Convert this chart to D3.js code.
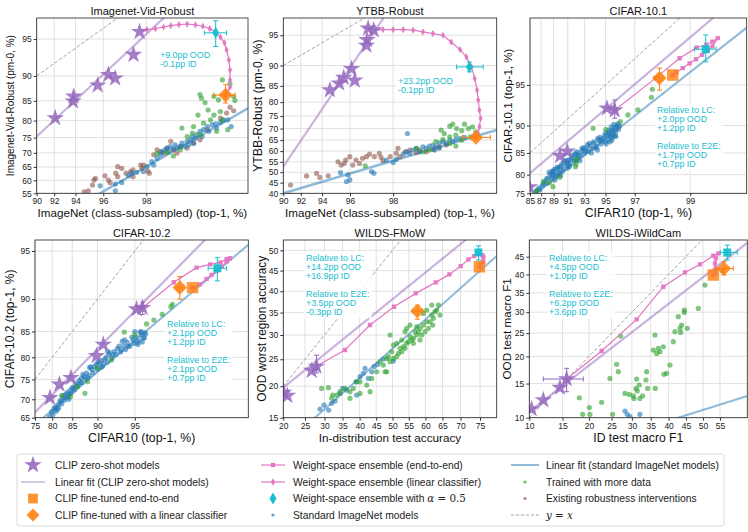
<!DOCTYPE html>
<html>
<head>
<meta charset="utf-8">
<script src="https://cdn.jsdelivr.net/npm/d3@7"></script>
<style>
body { margin: 0; background: #fff; }
svg { font-family: "Liberation Sans", Arial, sans-serif; }
.axis text { font-size: 8.5px; fill: #222; }
.axis line { stroke: #333; }
.grid line { stroke: #dedede; stroke-width: 0.9; }
.title { font-size: 11px; fill: #111; }
.alabel { fill: #111; }
.note { font-size: 8.9px; fill: #17becf; }
.leg { font-size: 10.3px; fill: #222; }
</style>
</head>
<body>
<svg id="fig" width="748" height="532"></svg>
<script>
// ---------- tick values ----------
var imnXTicks = [90, 92, 94, 96, 98]
    , vidYTicks = [55, 60, 65, 70, 75, 80, 85, 90, 95]
    , ytbbYTicks = [40, 45, 50, 55, 60, 65, 70, 75, 80, 85, 90, 95]
    , c101XTicks = [85, 87, 89, 91, 93, 95, 97, 99]
    , c101YTicks = [75, 80, 85, 90, 95]
    , c102XTicks = [75, 80, 85, 90, 95]
    , c102YTicks = [65, 70, 75, 80, 85, 90, 95]
    , fmowXTicks = [20, 25, 30, 35, 40, 45, 50, 55, 60, 65, 70, 75]
    , fmowYTicks = [15, 20, 25, 30, 35, 40, 45, 50]
    , iwildXTicks = [10, 15, 20, 25, 30, 35, 40, 45, 50, 55]
    , iwildYTicks = [10, 15, 20, 25, 30, 35, 40, 45];

// ---------- Imagenet-Vid-Robust ----------
var vidStars = [[92.1,80.7],[93.8,84.9],[93.85,86.0],[95.65,88.3],[96.3,90.2],[96.67,89.6],[97.52,93.2],[97.76,95.7]];
var vidWse = [[97.76,95.83],[98.02,95.89],[98.29,95.97],[98.52,96.11],[98.70,96.22],[98.88,96.30],[99.04,96.35],[99.18,96.28],[99.29,96.17],[99.38,95.97],[99.45,95.65],[99.50,95.2],[99.54,94.6],[99.56,93.8],[99.58,92.5],[99.59,91.0],[99.59,89.3],[99.59,87.9],[99.56,86.8],[99.55,86.3]];
var vidLC = [99.55, 86.3], vidLCErr = [[99.43, 99.63], [84.5, 88.4]];
var vidHalf = [99.45, 95.6], vidHalfErr = [[99.31, 99.56], [94.2, 96.6]];
var vidFitClip = [1.305, -0.988], vidFitStd = [0.803, -1.262];
var vidBlue = [[95.81,57.9],[96.68,56.0],[96.68,58.6],[97.0,59.2],[97.31,61.8],[97.45,62.7],[97.65,63.0],[97.9,63.3],[98.02,65.1],[98.18,66.9],[98.24,65.7],[98.34,68.1],[98.43,69.3],[98.48,70.4],[98.56,71.0],[98.61,71.6],[98.65,70.4],[98.69,72.1],[98.76,71.3],[98.8,72.7],[98.84,71.6],[98.91,72.1],[98.94,73.2],[99.0,72.1],[99.04,73.8],[99.07,72.7],[99.1,74.3],[99.13,75.3],[99.15,73.2],[99.18,74.8],[99.2,75.9],[99.25,76.9],[99.28,75.3],[99.3,77.4],[99.35,78.3],[99.37,76.9],[99.41,78.8],[99.45,79.1],[99.46,77.9],[99.5,79.5],[99.53,80.2],[99.57,80.2],[99.6,78.3]];
var vidBrown = [[94.7,55.6],[95.0,56.0],[95.3,58.2],[95.4,60.1],[95.5,60.8],[96.3,60.1],[96.4,59.1],[96.1,61.7],[96.7,62.7],[96.8,61.4],[96.8,65.1],[97.0,64.5],[97.2,62.7],[97.4,63.3],[97.5,61.4],[97.5,63.9],[97.8,65.7],[97.85,64.5],[97.9,65.7],[98.05,63.5],[98.1,62.7],[98.24,69.3],[98.34,71.0],[98.43,70.4],[98.52,69.9],[98.61,71.6],[98.7,73.8],[98.76,71.0],[98.84,69.9],[98.91,72.1],[99.04,71.6],[99.15,73.2],[99.25,74.3],[99.35,77.4],[99.5,80.7],[99.56,82.0],[99.59,83.5],[99.62,82.6]];
var vidGreen = [[99.52,89.3],[99.59,88.6],[99.25,86.4],[99.27,85.6],[99.43,86.0],[99.32,84.6],[99.48,85.2],[99.62,86.0],[99.63,85.1],[99.22,81.5],[99.36,82.8],[99.43,81.5],[99.5,82.4],[99.39,80.2],[99.52,80.2],[98.94,77.9],[99.15,78.3],[99.3,79.3],[99.13,76.4],[99.25,75.9],[99.04,75.3],[98.34,69.7],[98.61,70.1],[98.76,68.9],[98.91,71.0],[99.46,76.9],[99.57,77.4]];
var vidNote = ["+9.0pp OOD", "-0.1pp ID"];

// ---------- YTBB-Robust ----------
var ytbbStars = [[94.62,83.8],[95.3,85.7],[95.6,87.2],[96.09,89.3],[96.28,86.5],[96.9,93.6],[96.93,94.4],[96.98,95.8],[97.24,95.6]];
var ytbbWse = [[97.24,95.6],[97.63,95.67],[98.0,95.67],[98.32,95.67],[98.59,95.6],[98.82,95.4],[99.02,95.2],[99.19,95.0],[99.31,94.1],[99.42,92.96],[99.49,91.7],[99.54,89.7],[99.57,87.0],[99.59,83.8],[99.6,80.7],[99.61,77.2],[99.62,74.1],[99.61,70.8],[99.6,67.9],[99.58,66.2]];
var ytbbLC = [99.58, 66.2], ytbbLCErr = [[99.45, 99.69], [65.6, 66.8]];
var ytbbHalf = [99.52, 89.7], ytbbHalfErr = [[99.38, 99.64], [88.6, 90.7]];
var ytbbFitClip = [2.534, -3.181], ytbbFitStd = [0.507, -0.903];
var ytbbBlue = [[95.39,49.8],[95.78,45.5],[95.88,48.7],[95.99,46.3],[97.14,50.3],[97.25,49.5],[97.76,55.8],[98.0,54.6],[98.1,56.1],[98.32,58.6],[98.42,59.7],[98.5,59.0],[98.59,60.5],[98.67,61.3],[98.75,59.7],[98.82,62.0],[98.89,61.3],[98.95,62.3],[99.02,62.8],[99.07,62.0],[99.13,63.8],[99.19,64.3],[99.24,63.5],[99.29,65.0],[99.33,64.3],[99.37,65.3],[99.42,65.8],[99.47,66.2],[98.44,67.9],[99.05,60.5],[99.13,61.3]];
var ytbbBrown = [[90.87,43.9],[92.58,48.2],[93.52,49.5],[93.8,47.5],[94.49,48.3],[95.22,55.0],[95.43,53.4],[95.64,54.2],[95.73,55.8],[95.99,57.4],[96.17,53.4],[96.35,55.8],[96.54,54.2],[96.7,56.6],[96.9,57.4],[97.05,58.6],[97.27,57.4],[97.48,59.0],[97.55,57.1],[97.63,55.5],[97.9,57.4],[98.1,59.0],[98.22,57.4],[98.38,59.7],[98.5,60.5],[98.67,59.3],[98.75,60.5],[98.89,59.7],[99.02,60.8],[99.13,62.0],[99.24,62.8],[98.16,61.3]];
var ytbbGreen = [[96.84,53.0],[99.16,69.4],[99.21,67.9],[99.29,71.0],[99.33,71.8],[99.38,70.0],[99.44,69.1],[99.47,71.8],[99.51,70.0],[99.55,70.7],[99.58,68.6],[99.29,66.5],[99.37,67.2],[99.44,65.0],[99.19,65.3],[99.07,64.3],[98.67,61.3],[98.82,59.7],[98.95,60.5],[99.53,66.5],[99.37,62.3],[99.29,63.5]];
var ytbbNote = ["+23.2pp OOD", "-0.1pp ID"];

// ---------- CIFAR-10.1 ----------
var c101Stars = [[84.9,76.7],[89.94,84.35],[90.93,85.3],[95.12,92.45],[95.72,92.2]];
var c101StarErr = [[95.72, 92.2], [95.6, 95.85], [91.1, 93.45]];
var c101Wse = [[95.72,92.2],[97.97,95.6],[98.75,97.02],[99.13,97.61],[99.3,97.75],[99.39,97.9],[99.46,98.05],[99.39,97.67],[99.32,97.46],[99.23,97.22],[99.12,96.96],[98.99,96.7],[98.83,96.37],[98.66,96.05],[98.56,95.86]];
var c101E2E = [98.56, 95.86];
var c101LC = [98.12, 95.6], c101LCErr = [[98.0, 98.24], [94.5, 96.37]];
var c101Half = [99.29, 97.53], c101HalfErr = [[99.09, 99.44], [96.8, 98.18]];
var c101FitClip = [0.9435, -0.1241], c101FitStd = [0.8753, -0.277];
var c101Blue = [[86.0,75.4],[86.6,76.5],[87.2,77.2],[87.6,78.3],[88.0,77.8],[88.2,79.2],[88.5,80.2],[88.8,79.6],[89.0,80.8],[89.3,80.0],[89.6,81.4],[89.9,80.7],[90.1,82.0],[90.4,81.4],[90.6,82.8],[90.9,82.2],[91.1,83.4],[91.3,82.7],[91.6,84.0],[91.8,83.3],[92.0,84.5],[92.2,83.8],[92.4,85.0],[92.6,84.4],[92.8,85.5],[93.0,84.9],[93.2,85.9],[93.4,85.3],[93.6,86.4],[93.8,85.9],[94.0,86.9],[94.2,86.3],[94.4,87.4],[94.6,86.8],[94.8,87.8],[95.0,87.2],[95.1,88.4],[95.2,87.6],[95.3,88.9],[95.4,88.1],[95.5,89.3],[95.6,88.6],[95.7,89.7],[95.8,89.0],[95.9,90.0],[96.0,89.4],[95.5,87.5],[95.0,88.8],[94.5,88.0],[93.9,87.2],[93.3,86.6],[92.7,85.9],[92.1,85.2],[91.5,84.5],[90.8,83.4],[90.2,82.6],[89.5,81.8],[88.8,80.9],[89.2,78.6],[90.0,79.8],[91.0,81.6],[92.5,83.3],[94.3,85.6],[95.8,88.2],
    [88.3,80.6],[88.7,78.9],[89.1,81.3],[89.4,79.4],[89.8,81.9],[90.3,80.9],[90.5,83.3],[91.2,82.0],[91.4,83.7],[91.9,84.8],[92.3,84.3],[92.9,86.1],[93.1,85.4],[93.5,86.9],[93.7,85.0],[94.1,86.0],[94.3,87.8],[94.7,87.3],[94.9,88.3],[95.05,86.8],[95.25,89.2],[95.35,87.2],[95.45,89.8],[95.55,88.0],[95.65,90.2],[95.75,88.3],[95.85,89.6],[95.95,90.3],[96.05,89.9],[95.6,89.1],[95.3,88.5],[94.6,87.6],[92.0,83.3],[91.0,82.7],[89.7,80.3],[88.9,80.0],[87.9,79.0],[87.4,77.6],[86.8,76.0],[86.3,75.9]];
var c101Green = [[97.84,94.59],[97.8,93.76],[97.17,92.24],[96.6,91.56],[96.12,90.6],[95.02,89.4],[93.88,89.55],[92.1,83.6],[92.05,82.57],[91.97,81.9],[89.94,79.35],[88.4,77.95],[87.4,78.2],[86.2,75.7],[88.9,76.85]];
var c101Note = ["Relative to LC:", "+2.0pp OOD", "+1.2pp ID", "", "Relative to E2E:", "+1.7pp OOD", "+0.7pp ID"];

// ---------- CIFAR-10.2 ----------
var c102Stars = [[79.4,70.4],[81.9,73.8],[84.7,75.4],[89.85,80.3],[90.96,82.6],[95.17,88.6],[95.73,88.8]];
var c102StarErr = [[95.73, 88.8], [95.6, 95.86], [87.8, 89.6]];
var c102Wse = [[95.73,88.8],[97.85,92.05],[98.76,93.56],[99.13,93.87],[99.34,94.05],[99.44,94.32],[99.49,94.41],[99.44,94.11],[99.36,93.66],[99.26,93.24],[99.16,92.84],[99.04,92.42],[98.86,91.82],[98.63,91.44]];
var c102E2E = [98.63, 91.44];
var c102LC = [98.13, 91.44], c102LCErr = [[98.0, 98.26], [90.0, 92.66]];
var c102Half = [99.28, 93.5], c102HalfErr = [[99.08, 99.44], [92.2, 94.45]];
var c102FitClip = [0.789, -0.1066], c102FitStd = [0.6557, -0.11];
var c102Blue = [[79.3,65.3],[79.8,66.6],[80.5,67.5],[81.0,66.8],[81.5,68.5],[82.0,69.4],[82.5,68.8],[83.0,70.5],[83.5,71.2],[84.0,70.6],[84.5,72.3],[85.0,73.0],[85.5,72.4],[86.0,74.0],[86.5,74.8],[87.0,74.2],[87.5,75.7],[88.0,76.5],[88.5,75.9],[89.0,77.3],[89.5,78.0],[90.0,77.4],[90.3,78.8],[90.7,79.3],[91.0,78.6],[91.4,80.0],[91.8,80.6],[92.2,79.9],[92.6,81.2],[93.0,81.8],[93.4,81.1],[93.8,82.4],[94.2,83.0],[94.5,82.3],[94.8,83.5],[95.1,84.0],[95.4,83.3],[95.6,84.4],[95.8,83.8],[95.9,84.8],[95.3,82.6],[94.0,81.6],[92.4,80.5],[90.8,78.0],[89.2,76.6],[87.8,75.0],[86.2,73.3],[84.8,71.6],[83.2,69.8],[81.7,67.7],[80.2,65.9],[88.6,77.8],[91.6,81.3],[93.6,83.2],[95.0,85.0],[82.8,71.0],
    [80.8,67.9],[81.3,67.2],[82.3,69.8],[83.8,71.8],[84.2,70.0],[85.2,72.8],[86.8,74.2],[87.3,76.2],[88.2,75.4],[88.8,77.9],[89.8,78.5],[90.5,77.8],[91.2,79.6],[91.6,79.0],[92.0,81.0],[92.8,80.6],[93.2,82.3],[93.9,83.5],[94.3,82.2],[94.7,84.0],[95.2,83.0],[95.5,84.9],[95.7,83.1],[95.9,83.9],[96.0,84.6],[95.6,85.0],[94.9,82.8],[93.5,81.6],[90.1,79.0],[87.0,75.3],[85.7,73.6],[84.3,71.3]];
var c102Green = [[82.47,70.95],[84.6,70.7],[86.1,73.23],[87.7,71.54],[88.2,74.45],[89.93,77.58],[92.2,79.42],[93.85,84.9],[95.0,84.4],[96.07,86.3],[96.64,86.94],[97.2,87.82],[97.78,89.3],[97.7,88.96]];
var c102Note = ["Relative to LC:", "+2.1pp OOD", "+1.2pp ID", "", "Relative to E2E:", "+2.1pp OOD", "+0.7pp ID"];

// ---------- WILDS-FMoW ----------
var fmowStars = [[20.1,18.9],[20.9,18.4],[26.66,22.8],[27.9,23.6]];
var fmowStarErr = [[27.9, 23.6], [27.6, 28.2], [22.4, 25.8]];
var fmowWse = [[28.4,23.87],[35.7,26.86],[43.1,32.18],[50.47,36.35],[57.1,39.49],[63.05,42.14],[66.95,44.08],[70.04,46.11],[72.07,47.75],[73.52,48.58],[74.6,49.07],[75.6,48.82],[75.83,48.25],[75.77,47.19],[75.18,46.53],[74.85,45.96]];
var fmowE2E = [74.85, 45.96];
var fmowLC = [57.6, 35.35], fmowLCErr = [[56.2, 59.2], [33.5, 36.7]];
var fmowHalf = [74.6, 49.5], fmowHalfErr = [[74.3, 74.9], [47.6, 51.1]];
var fmowFitClip = [0.6513, -0.3025], fmowFitStd = [0.7153, -0.609];
var fmowBlue = [[28.81,16.29],[29.88,16.9],[31.14,16.13],[31.97,17.17],[32.89,17.54],[34.29,18.78],[35.05,19.63],[36.2,19.35],[38.93,20.78],[40.12,21.7],[41.11,22.33],[41.61,23.24],[42.62,21.39],[39.12,18.51],[43.64,22.61],[44.34,23.56],[45.46,24.0],[47.19,25.04],[50.27,24.65]];
var fmowGreen = [[29.25,19.63],[31.05,19.75],[31.97,17.97],[32.24,18.51],[33.36,18.51],[34.29,19.07],[35.72,19.63],[37.16,19.07],[38.14,19.63],[37.16,17.97],[39.12,20.78],[40.12,20.78],[40.12,18.78],[42.12,20.21],[43.13,19.07],[43.64,21.39],[45.15,22.61],[46.18,24.52],[47.19,23.87],[47.71,22.61],[48.22,25.17],[48.22,22.61],[48.73,25.5],[49.24,24.52],[49.76,26.5],[50.27,25.17],[51.29,25.5],[51.81,26.17],[52.32,27.19],[52.83,26.5],[53.34,27.53],[53.85,27.19],[54.36,28.23],[54.87,28.58],[55.38,29.64],[55.89,28.93],[56.4,29.29],[56.9,30.72],[57.4,30.0],[57.91,30.72],[58.41,31.45],[58.91,30.0],[59.41,32.18],[59.91,30.72],[60.4,32.92],[60.9,31.45],[61.39,32.92],[61.88,34.43],[62.37,33.68],[62.86,35.2],[63.34,35.58],[63.83,36.73],[64.3,34.43],[53.85,30.72],[54.36,31.45],[55.38,32.18],[51.29,28.23],[49.24,30.0],[59.41,34.81],[57.4,31.81],[60.4,35.58],[61.88,36.73],[62.17,32.18],[58.41,28.93],[56.4,28.23],[52.83,28.93],[50.27,27.88]];
var fmowNote = ["Relative to LC:", "+14.2pp OOD", "+16.9pp ID", "", "Relative to E2E:", "+3.5pp OOD", "-0.3pp ID"];

// ---------- WILDS-iWildCam ----------
var iwildStars = [[10.3,11.14],[11.93,12.41],[14.56,14.33],[15.72,15.77]];
var iwildStarErr = [[15.72, 15.77], [11.93, 18.86], [13.67, 17.7]];
var iwildWse = [[15.72,15.77],[22.73,21.1],[31.23,28.24],[38.49,36.64],[44.72,40.57],[49.12,42.81],[53.05,45.26],[54.51,45.93],[53.8,44.51],[53.53,43.09],[53.8,41.69],[53.53,40.29],[53.05,39.83]];
var iwildE2E = [53.05, 39.83];
var iwildLC = [56.16, 41.69], iwildLCErr = [[53.53, 58.86], [39.83, 43.57]];
var iwildHalf = [57.13, 46.2], iwildHalfErr = [[55.1, 60.0], [44.04, 48.3]];
var iwildFitClip = [0.7532, -0.2732], iwildFitStd = [0.3057, -1.226];
var iwildBlue = [[28.26,10.87],[28.83,10.43],[29.5,10.13],[32.09,10.43]];
var iwildGreen = [[18.08,12.75],[18.73,10.43],[20.09,11.33],[20.22,10.43],[22.73,12.08],[24.62,15.88],[25.25,10.43],[26.22,18.44],[26.61,17.07],[28.26,13.41],[29.34,13.26],[30.36,13.05],[30.53,12.65],[31.05,14.2],[31.4,13.8],[31.92,14.76],[31.23,15.77],[32.09,12.65],[32.81,13.05],[33.7,15.6],[33.88,17.07],[34.15,14.2],[35.7,21.3],[36.16,24.57],[36.25,14.2],[36.62,20.6],[37.08,21.65],[37.56,20.95],[38.49,22.0],[38.67,16.6],[39.43,16.77],[40.38,18.31],[41.34,23.09],[41.82,25.33],[42.78,28.9],[43.27,26.1],[43.46,25.17],[43.75,26.87],[44.53,30.54],[44.53,29.96],[45.4,26.1],[48.63,30.96],[50.59,37.09],[55.78,40.94],[27.18,24.33]];
var iwildNote = ["Relative to LC:", "+4.5pp OOD", "+1.0pp ID", "", "Relative to E2E:", "+6.2pp OOD", "+3.6pp ID"];

// ---------- legend labels ----------
var legendCol1 = ["CLIP zero-shot models", "Linear fit (CLIP zero-shot models)", "CLIP fine-tuned end-to-end", "CLIP fine-tuned with a linear classifier"];
var legendCol2 = ["Weight-space ensemble (end-to-end)", "Weight-space ensemble (linear classifier)", "Weight-space ensemble with ", "Standard ImageNet models"];
var legendCol3 = ["Linear fit (standard ImageNet models)", "Trained with more data", "Existing robustness interventions", ""];

var C = {
    purple: "#9467bd", pink: "#e377c2", orange: "#ff7f0e", cyan: "#17becf",
    blue: "#1f77b4", green: "#2ca02c", brown: "#8c564b"
};

// inverse normal cdf (Acklam), input in percent
function probit(v) {
    var p = v / 100;
    var a = [-3.969683028665376e+01, 2.209460984245205e+02, -2.759285104469687e+02, 1.383577518672690e+02, -3.066479806614716e+01, 2.506628277459239e+00];
    var b = [-5.447609879822406e+01, 1.615858368580409e+02, -1.556989798598866e+02, 6.680131188771972e+01, -1.328068155288572e+01];
    var c = [-7.784894002430293e-03, -3.223964580411365e-01, -2.400758277161838e+00, -2.549732539343734e+00, 4.374664141464968e+00, 2.938163982698783e+00];
    var d = [7.784695709041462e-03, 3.224671290700398e-01, 2.445134137142996e+00, 3.754408661907416e+00];
    var q, r;
    if (p < 0.02425) {
        q = Math.sqrt(-2 * Math.log(p));
        return (((((c[0]*q+c[1])*q+c[2])*q+c[3])*q+c[4])*q+c[5]) / ((((d[0]*q+d[1])*q+d[2])*q+d[3])*q+1);
    }
    if (p > 1 - 0.02425) {
        q = Math.sqrt(-2 * Math.log(1 - p));
        return -(((((c[0]*q+c[1])*q+c[2])*q+c[3])*q+c[4])*q+c[5]) / ((((d[0]*q+d[1])*q+d[2])*q+d[3])*q+1);
    }
    q = p - 0.5; r = q * q;
    return (((((a[0]*r+a[1])*r+a[2])*r+a[3])*r+a[4])*r+a[5])*q / (((((b[0]*r+b[1])*r+b[2])*r+b[3])*r+b[4])*r+1);
}

var panels = [
    {title: "Imagenet-Vid-Robust", box: [36.7, 18, 248, 193.3], xDomain: [90, 99.72], yDomain: [55, 96.8],
     xTicks: imnXTicks, yTicks: vidYTicks, xLabel: "ImageNet (class-subsampled) (top-1, %)", yLabel: "Imagenet-Vid-Robust (pm-0, %)",
     blue: vidBlue, brown: vidBrown, green: vidGreen, stars: vidStars, wse: vidWse, wseMark: "thin",
     lc: vidLC, lcErr: vidLCErr, half: vidHalf, halfErr: vidHalfErr, halfMark: "thin",
     fitClip: vidFitClip, fitStd: vidFitStd, note: vidNote, notePos: [160, 58],
     ylab: [10, 10], xlabSize: 11.7, stdWidth: 2.6},
    {title: "YTBB-Robust", box: [283.3, 18, 496.7, 193.3], xDomain: [90, 99.73], yDomain: [40, 96.8],
     xTicks: imnXTicks, yTicks: ytbbYTicks, xLabel: "ImageNet (class-subsampled) (top-1, %)", yLabel: "YTBB-Robust (pm-0, %)",
     blue: ytbbBlue, brown: ytbbBrown, green: ytbbGreen, stars: ytbbStars, wse: ytbbWse, wseMark: "thin",
     lc: ytbbLC, lcErr: ytbbLCErr, half: ytbbHalf, halfErr: ytbbHalfErr, halfMark: "thin",
     fitClip: ytbbFitClip, fitStd: ytbbFitStd, note: ytbbNote, notePos: [398, 84],
     ylab: [258, 12.3], xlabSize: 11.7, stdWidth: 2.6},
    {title: "CIFAR-10.1", box: [530, 18, 746.7, 193.3], xDomain: [85, 99.73], yDomain: [75, 98.76],
     xTicks: c101XTicks, yTicks: c101YTicks, xLabel: "CIFAR10 (top-1, %)", yLabel: "CIFAR-10.1 (top-1, %)",
     blue: c101Blue, brown: [], green: c101Green, stars: c101Stars, starErr: c101StarErr, wse: c101Wse, wseMark: "square",
     e2e: c101E2E, lc: c101LC, lcErr: c101LCErr, half: c101Half, halfErr: c101HalfErr, halfMark: "square",
     fitClip: c101FitClip, fitStd: c101FitStd, note: c101Note, notePos: [657, 113],
     ylab: [508, 11.5], xlabSize: 12.3, stdWidth: 2},
    {title: "CIFAR-10.2", box: [35, 240, 248.3, 417.7], xDomain: [75, 99.70], yDomain: [65, 95.8],
     xTicks: c102XTicks, yTicks: c102YTicks, xLabel: "CIFAR10 (top-1, %)", yLabel: "CIFAR-10.2 (top-1, %)",
     blue: c102Blue, brown: [], green: c102Green, stars: c102Stars, starErr: c102StarErr, wse: c102Wse, wseMark: "square",
     e2e: c102E2E, lc: c102LC, lcErr: c102LCErr, half: c102Half, halfErr: c102HalfErr, halfMark: "square",
     fitClip: c102FitClip, fitStd: c102FitStd, note: c102Note, notePos: [167, 327],
     ylab: [10, 12], xlabSize: 12.3, stdWidth: 2},
    {title: "WILDS-FMoW", box: [283.3, 240, 496.7, 417.7], xDomain: [20, 78.9], yDomain: [15, 52.55],
     xTicks: fmowXTicks, yTicks: fmowYTicks, xLabel: "In-distribution test accuracy", yLabel: "OOD worst region accuracy",
     blue: fmowBlue, brown: [], green: fmowGreen, stars: fmowStars, starErr: fmowStarErr, wse: fmowWse, wseMark: "square",
     e2e: fmowE2E, lc: fmowLC, lcErr: fmowLCErr, half: fmowHalf, halfErr: fmowHalfErr, halfMark: "square",
     fitClip: fmowFitClip, fitStd: fmowFitStd, note: fmowNote, notePos: [306, 261],
     ylab: [261.5, 11.9], xlabSize: 11.7, stdWidth: 2},
    {title: "WILDS-iWildCam", box: [529.3, 240, 747.3, 417.7], xDomain: [10, 62.83], yDomain: [10, 49.76],
     xTicks: iwildXTicks, yTicks: iwildYTicks, xLabel: "ID test macro F1", yLabel: "OOD test macro F1",
     blue: iwildBlue, brown: [], green: iwildGreen, stars: iwildStars, starErr: iwildStarErr, wse: iwildWse, wseMark: "square",
     e2e: iwildE2E, lc: iwildLC, lcErr: iwildLCErr, half: iwildHalf, halfErr: iwildHalfErr, halfMark: "square",
     fitClip: iwildFitClip, fitStd: iwildFitStd, note: iwildNote, notePos: [549, 261],
     ylab: [507, 11.7], xlabSize: 12.2, stdWidth: 2}
];

var svg = d3.select("#fig");

function symPath(kind, size) {
    if (kind === "star") return d3.symbol(d3.symbolStar, size)();
    if (kind === "square") return d3.symbol(d3.symbolSquare, size)();
    if (kind === "thin") return d3.symbol(d3.symbolDiamond, size)();
    return d3.symbol(d3.symbolSquare, size)();
}

function drawPanel(cfg, k) {
    var left = cfg.box[0], top = cfg.box[1], w = cfg.box[2] - left, h = cfg.box[3] - top;
    var g = svg.append("g").attr("transform", "translate(" + left + "," + top + ")");

    var xs = d3.scaleLinear().domain(cfg.xDomain.map(probit)).range([0, w]);
    var ys = d3.scaleLinear().domain(cfg.yDomain.map(probit)).range([h, 0]);
    var X = function(v) { return xs(probit(v)); };
    var Y = function(v) { return ys(probit(v)); };

    var clipId = "clip" + k;
    g.append("clipPath").attr("id", clipId).append("rect").attr("width", w).attr("height", h);

    // grid
    var grid = g.append("g").attr("class", "grid");
    grid.selectAll(".gx").data(cfg.xTicks).join("line").attr("class", "gx")
        .attr("x1", X).attr("x2", X).attr("y1", 0).attr("y2", h);
    grid.selectAll(".gy").data(cfg.yTicks).join("line").attr("class", "gy")
        .attr("y1", Y).attr("y2", Y).attr("x1", 0).attr("x2", w);

    // axes
    var xAxis = d3.axisBottom(xs)
        .tickValues(cfg.xTicks.map(probit))
        .tickFormat(function(d, i) { return cfg.xTicks[i]; })
        .tickSizeInner(3).tickSizeOuter(0).tickPadding(2);
    var yAxis = d3.axisLeft(ys)
        .tickValues(cfg.yTicks.map(probit))
        .tickFormat(function(d, i) { return cfg.yTicks[i]; })
        .tickSizeInner(3).tickSizeOuter(0).tickPadding(2);
    g.append("g").attr("class", "axis").attr("transform", "translate(0," + h + ")").call(xAxis)
        .call(function(s) { s.select(".domain").remove(); });
    g.append("g").attr("class", "axis").call(yAxis)
        .call(function(s) { s.select(".domain").remove(); });

    var pane = g.append("g").attr("clip-path", "url(#" + clipId + ")");
    var px0 = xs.domain()[0], px1 = xs.domain()[1];

    // y = x
    pane.append("line")
        .attr("x1", xs(px0)).attr("y1", ys(px0)).attr("x2", xs(px1)).attr("y2", ys(px1))
        .attr("stroke", "#999").attr("stroke-width", 0.9).attr("stroke-dasharray", "3.5,2");

    // linear fits (in probit space)
    function fitLine(coef, color, width) {
        pane.append("line")
            .attr("x1", xs(px0)).attr("y1", ys(coef[0] * px0 + coef[1]))
            .attr("x2", xs(px1)).attr("y2", ys(coef[0] * px1 + coef[1]))
            .attr("stroke", color).attr("stroke-opacity", 0.5).attr("stroke-width", width);
    }
    fitLine(cfg.fitStd, C.blue, cfg.stdWidth);
    fitLine(cfg.fitClip, C.purple, 2.2);

    // scatter of other models
    function dots(data, color) {
        pane.append("g").selectAll("circle").data(data).join("circle")
            .attr("cx", function(d) { return X(d[0]); })
            .attr("cy", function(d) { return Y(d[1]); })
            .attr("r", 2.6).attr("fill", color).attr("fill-opacity", 0.6);
    }
    dots(cfg.brown, C.brown);
    dots(cfg.blue, C.blue);
    dots(cfg.green, C.green);

    function errbar(p, ex, ey, color) {
        var eg = pane.append("g").attr("stroke", color).attr("stroke-width", 1);
        if (ex) {
            eg.append("line").attr("x1", X(ex[0])).attr("x2", X(ex[1])).attr("y1", Y(p[1])).attr("y2", Y(p[1]));
            [ex[0], ex[1]].forEach(function(v) {
                eg.append("line").attr("x1", X(v)).attr("x2", X(v)).attr("y1", Y(p[1]) - 2.5).attr("y2", Y(p[1]) + 2.5);
            });
        }
        if (ey) {
            eg.append("line").attr("y1", Y(ey[0])).attr("y2", Y(ey[1])).attr("x1", X(p[0])).attr("x2", X(p[0]));
            [ey[0], ey[1]].forEach(function(v) {
                eg.append("line").attr("y1", Y(v)).attr("y2", Y(v)).attr("x1", X(p[0]) - 2.5).attr("x2", X(p[0]) + 2.5);
            });
        }
    }

    function marker(p, kind, size, color, opacity, rot) {
        pane.append("path")
            .attr("d", symPath(kind, size))
            .attr("transform", "translate(" + X(p[0]) + "," + Y(p[1]) + ")" + (rot ? " rotate(45)" : ""))
            .attr("fill", color).attr("fill-opacity", opacity);
    }

    // weight-space ensemble path
    var lineGen = d3.line().x(function(d) { return X(d[0]); }).y(function(d) { return Y(d[1]); });
    pane.append("path").attr("d", lineGen(cfg.wse))
        .attr("fill", "none").attr("stroke", C.pink).attr("stroke-width", 1.2);
    cfg.wse.slice(1).forEach(function(p) {
        marker(p, cfg.wseMark, cfg.wseMark === "thin" ? 15 : 19, C.pink, 0.95);
    });

    // zero-shot stars
    if (cfg.starErr) errbar(cfg.starErr[0], cfg.starErr[1], cfg.starErr[2], C.purple);
    cfg.stars.forEach(function(p) { marker(p, "star", 95, C.purple, 0.85); });

    // fine-tuned
    if (cfg.e2e) marker(cfg.e2e, "square", 130, C.orange, 0.8);
    errbar(cfg.lc, cfg.lcErr[0], cfg.lcErr[1], C.orange);
    marker(cfg.lc, "diamond", 105, C.orange, 0.85, true);

    // alpha = 0.5 ensemble
    errbar(cfg.half, cfg.halfErr[0], cfg.halfErr[1], C.cyan);
    marker(cfg.half, cfg.halfMark, cfg.halfMark === "thin" ? 42 : 62, C.cyan, 0.95);

    // frame
    g.append("rect").attr("width", w).attr("height", h)
        .attr("fill", "none").attr("stroke", "#222").attr("stroke-width", 0.8);

    // labels
    g.append("text").attr("class", "title").attr("x", w / 2).attr("y", -3.5)
        .attr("text-anchor", "middle").text(cfg.title);
    g.append("text").attr("class", "alabel").attr("x", w / 2).attr("y", h + 24)
        .attr("text-anchor", "middle").style("font-size", cfg.xlabSize + "px").text(cfg.xLabel);
    svg.append("text").attr("class", "alabel")
        .attr("transform", "translate(" + (cfg.ylab[0] + 0.36 * cfg.ylab[1]) + "," + (top + h / 2) + ") rotate(-90)")
        .attr("text-anchor", "middle").style("font-size", cfg.ylab[1] + "px").text(cfg.yLabel);

    // annotation with white box
    var ng = svg.append("g");
    var nt = ng.append("text").attr("class", "note");
    cfg.note.forEach(function(s, i) {
        nt.append("tspan").attr("x", cfg.notePos[0]).attr("y", cfg.notePos[1] + i * 9).text(s);
    });
    var bb = nt.node().getBBox();
    ng.insert("rect", "text")
        .attr("x", bb.x - 2).attr("y", bb.y - 1.5).attr("width", bb.width + 4).attr("height", bb.height + 3)
        .attr("fill", "#fff").attr("fill-opacity", 0.85);
}

panels.forEach(drawPanel);

// ---------- legend ----------
var lg = svg.append("g");
lg.append("rect").attr("x", 17).attr("y", 454).attr("width", 707).attr("height", 72).attr("rx", 2.5)
    .attr("fill", "#fff").attr("stroke", "#d0d0d0").attr("stroke-width", 0.8);

var rowY = [465, 482, 498.5, 515];

function legMark(x, y, kind, size, color, op, rot) {
    lg.append("path").attr("d", symPath(kind, size))
        .attr("transform", "translate(" + x + "," + y + ")" + (rot ? " rotate(45)" : ""))
        .attr("fill", color).attr("fill-opacity", op);
}
function legLine(x0, x1, y, color, op, width, dash) {
    lg.append("line").attr("x1", x0).attr("x2", x1).attr("y1", y).attr("y2", y)
        .attr("stroke", color).attr("stroke-opacity", op).attr("stroke-width", width)
        .attr("stroke-dasharray", dash || null);
}
function legText(x, y, s) {
    return lg.append("text").attr("class", "leg").attr("x", x).attr("y", y + 3.6).text(s);
}

// column 1
legMark(33, rowY[0], "star", 95, C.purple, 0.9);
legLine(21, 45, rowY[1], C.purple, 0.5, 1.5);
legMark(33, rowY[2], "square", 95, C.orange, 0.85);
legMark(33, rowY[3], "diamond", 85, C.orange, 0.9, true);
legendCol1.forEach(function(s, i) { legText(55, rowY[i], s); });

// column 2
legLine(261, 285, rowY[0], C.pink, 1, 1.2);
legMark(273, rowY[0], "square", 18, C.pink, 1);
legLine(261, 285, rowY[1], C.pink, 1, 1.2);
legMark(273, rowY[1], "thin", 16, C.pink, 1);
legMark(273, rowY[2], "thin", 42, C.cyan, 1);
lg.append("circle").attr("cx", 273).attr("cy", rowY[3]).attr("r", 1.6).attr("fill", C.blue).attr("fill-opacity", 0.7);
legendCol2.forEach(function(s, i) {
    var t = legText(293, rowY[i], s);
    if (i === 2) {
        t.append("tspan").attr("font-family", "DejaVu Serif, serif").attr("font-style", "italic").text("\u03b1");
        t.append("tspan").attr("font-family", "DejaVu Serif, serif").text(" = 0.5");
    }
});

// column 3
legLine(511, 539, rowY[0], C.blue, 0.5, 2);
lg.append("circle").attr("cx", 525).attr("cy", rowY[1]).attr("r", 1.6).attr("fill", C.green).attr("fill-opacity", 0.7);
lg.append("circle").attr("cx", 525).attr("cy", rowY[2]).attr("r", 1.6).attr("fill", C.brown).attr("fill-opacity", 0.7);
legLine(511, 539, rowY[3], "#999", 1, 0.9, "3,2");
legendCol3.forEach(function(s, i) {
    var t = legText(546, rowY[i], s);
    if (i === 3) {
        t.attr("font-family", "DejaVu Serif, serif");
        t.append("tspan").attr("font-style", "italic").text("y");
        t.append("tspan").text(" = ");
        t.append("tspan").attr("font-style", "italic").text("x");
    }
});
</script>
</body>
</html>
